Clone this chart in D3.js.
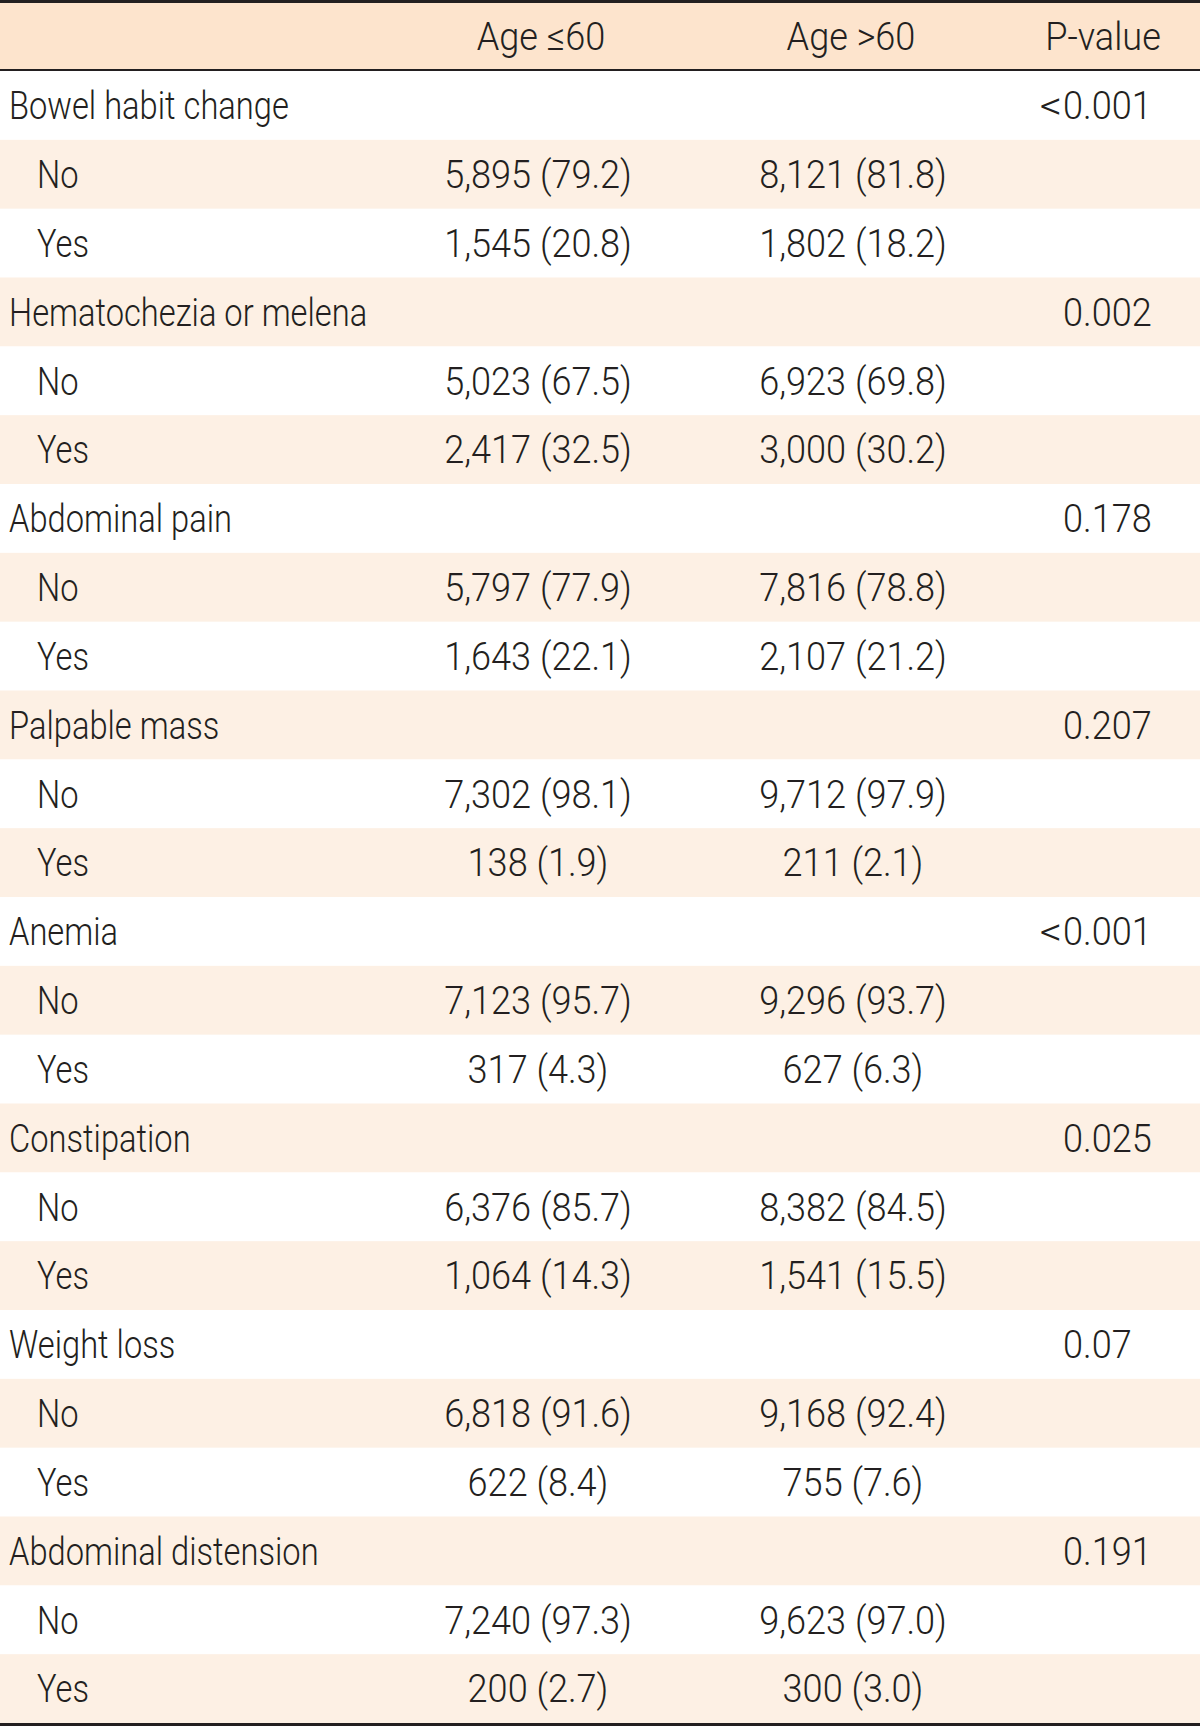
<!DOCTYPE html>
<html>
<head>
<meta charset="utf-8">
<script src="https://cdn.jsdelivr.net/npm/d3@7"></script>
<style>
html,body{margin:0;padding:0;background:#fff;}
svg{display:block;}
text{font-family:"Roboto","Liberation Sans","Arial",sans-serif;font-weight:300;fill:#231f20;}
</style>
</head>
<body>
<div id="chart"></div>
<script>
// ---- data ----
const headers = ["Age \u226460", "Age >60", "P-value"];
const symptoms = ["Bowel habit change","Hematochezia or melena","Abdominal pain","Palpable mass","Anemia","Constipation","Weight loss","Abdominal distension"];
const pValues = ["<0.001","0.002","0.178","0.207","<0.001","0.025","0.07","0.191"];
const levels = ["No","Yes"];
const young = [
  ["5,895 (79.2)","1,545 (20.8)"],
  ["5,023 (67.5)","2,417 (32.5)"],
  ["5,797 (77.9)","1,643 (22.1)"],
  ["7,302 (98.1)","138 (1.9)"],
  ["7,123 (95.7)","317 (4.3)"],
  ["6,376 (85.7)","1,064 (14.3)"],
  ["6,818 (91.6)","622 (8.4)"],
  ["7,240 (97.3)","200 (2.7)"]
];
const old = [
  ["8,121 (81.8)","1,802 (18.2)"],
  ["6,923 (69.8)","3,000 (30.2)"],
  ["7,816 (78.8)","2,107 (21.2)"],
  ["9,712 (97.9)","211 (2.1)"],
  ["9,296 (93.7)","627 (6.3)"],
  ["8,382 (84.5)","1,541 (15.5)"],
  ["9,168 (92.4)","755 (7.6)"],
  ["9,623 (97.0)","300 (3.0)"]
];

// ---- build rows ----
const rows = [];
symptoms.forEach((s,i)=>{
  rows.push({type:"cat", label:s, p:pValues[i]});
  levels.forEach((l,j)=>rows.push({type:"sub", label:l, a:young[i][j], b:old[i][j]}));
});

const W = 1200, H = 1726;
const headerTop = 3, headerBottom = 69, lineW = 2, rowsTop = 71, rowsBottom = 1723;
const fontSize = 38, sxLabel = 0.86, sxNum = 0.95;
const colX = {label:9, sub:37, a:538, b:853, p:1063};
const headX = [541, 851, 1103];

const svg = d3.select("#chart").append("svg").attr("width",W).attr("height",H);

const y = d3.scaleBand().domain(d3.range(rows.length)).range([rowsTop, rowsBottom]).padding(0);

// header
svg.append("rect").attr("x",0).attr("y",headerTop).attr("width",W).attr("height",headerBottom-headerTop).attr("fill","#fde4cd");
svg.append("rect").attr("x",0).attr("y",0).attr("width",W).attr("height",3).attr("fill","#231f20");
svg.append("rect").attr("x",0).attr("y",headerBottom).attr("width",W).attr("height",lineW).attr("fill","#231f20");

function txt(g, x, yy, s, anchor, sx){
  return g.append("text")
    .attr("transform",`translate(${x},${yy}) scale(${sx},1)`)
    .attr("text-anchor",anchor)
    .attr("dominant-baseline","central")
    .attr("font-size",fontSize)
    .text(s);
}
const hy = (headerTop+headerBottom)/2 + 1;
headers.forEach((h,i)=>txt(svg, headX[i], hy, h, "middle", sxNum));

// body stripes
const g = svg.append("g");
g.selectAll("rect.row").data(rows).join("rect")
  .attr("class","row")
  .attr("x",0).attr("width",W)
  .attr("y",(d,i)=>y(i)).attr("height",y.bandwidth()+0.5)
  .attr("fill",(d,i)=> i%2===1 ? "#fdf0e4" : "#ffffff");

rows.forEach((r,i)=>{
  const cy = y(i) + y.bandwidth()/2 + 1;
  if(r.type==="cat"){
    txt(g, colX.label, cy, r.label, "start", sxLabel);
    const m = r.p.match(/^([<>]?)(.*)$/);
    if(m[1]) txt(g, colX.p - 1, cy, m[1], "end", 1.15);
    txt(g, colX.p, cy, m[2], "start", sxNum);
  } else {
    txt(g, colX.sub, cy, r.label, "start", sxLabel);
    txt(g, colX.a, cy, r.a, "middle", sxNum);
    txt(g, colX.b, cy, r.b, "middle", sxNum);
  }
});

svg.append("rect").attr("x",0).attr("y",rowsBottom).attr("width",W).attr("height",H-rowsBottom).attr("fill","#231f20");
</script>
</body>
</html>
